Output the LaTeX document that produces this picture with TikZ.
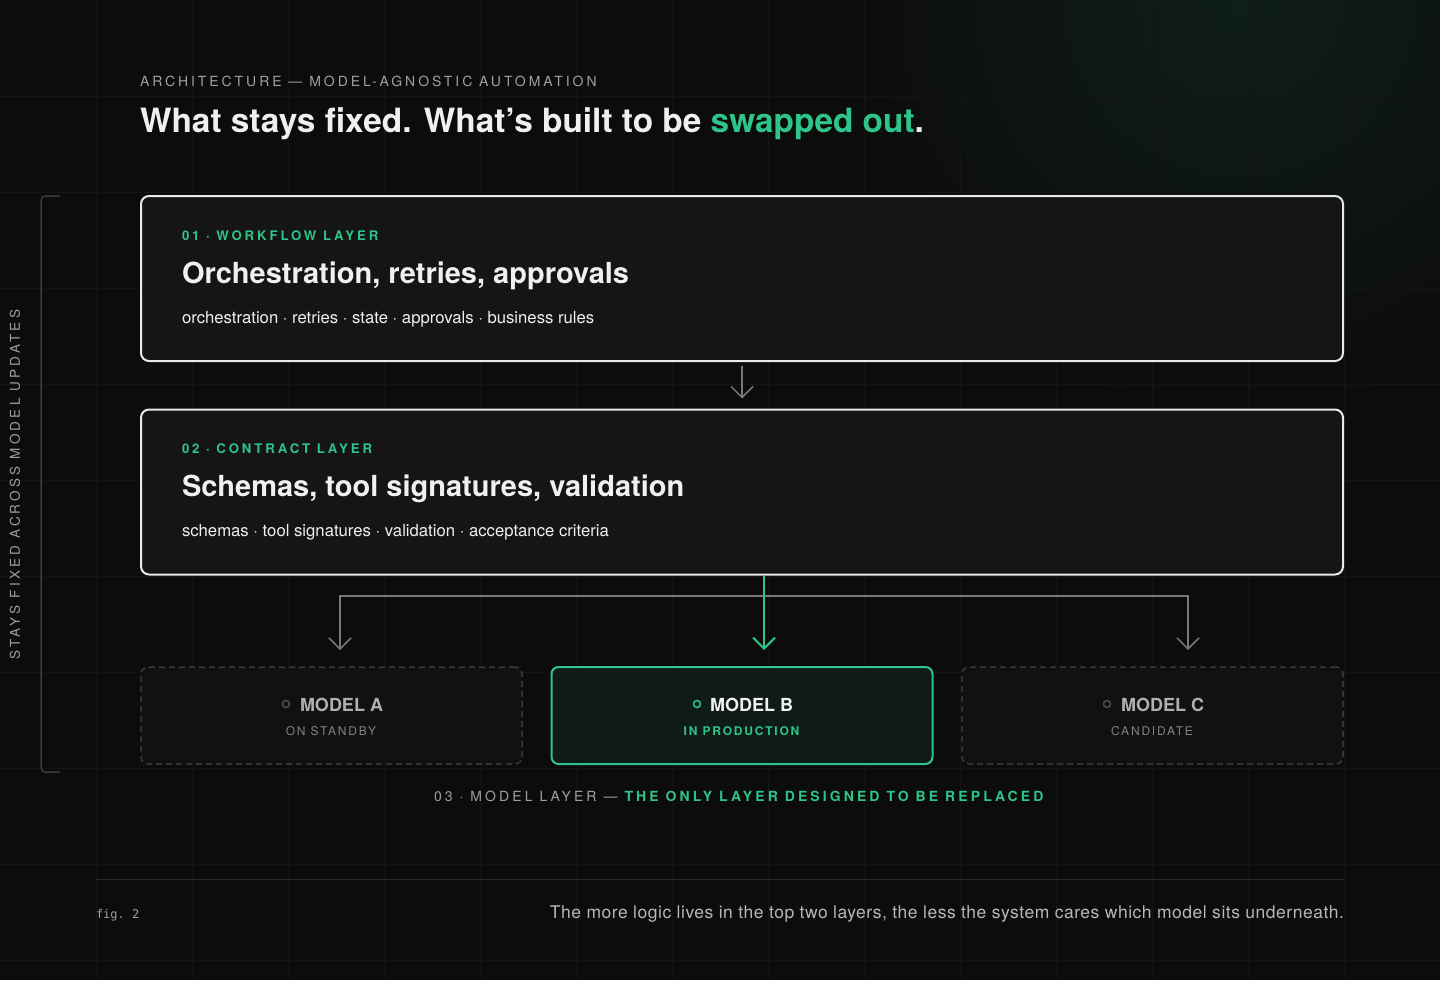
\documentclass[tikz,border=0pt]{standalone}
\usepackage{fontspec}
\setmainfont{TeX Gyre Heros}
\setmonofont{DejaVu Sans Mono}
\newfontfamily\trackfont[LetterSpace=15]{TeX Gyre Heros}
\newfontfamily\kickerfont[LetterSpace=21]{TeX Gyre Heros}
\newfontfamily\widetrack[LetterSpace=22]{TeX Gyre Heros}
\newfontfamily\sidefont[LetterSpace=24]{TeX Gyre Heros}
\newfontfamily\notefont[LetterSpace=3]{TeX Gyre Heros}
\usetikzlibrary{arrows.meta}

\definecolor{bgcol}{RGB}{12,12,12}
\definecolor{glow}{RGB}{15,30,25}
\definecolor{gridcol}{RGB}{20,20,20}
\definecolor{accent}{RGB}{46,196,138}
\definecolor{panel}{RGB}{21,21,21}
\definecolor{edge}{RGB}{232,232,232}
\definecolor{softwhite}{RGB}{240,240,240}
\definecolor{midgray}{RGB}{160,160,160}
\definecolor{namegray}{RGB}{176,176,176}
\definecolor{notegray}{RGB}{184,184,184}
\definecolor{dimgray}{RGB}{130,130,130}
\definecolor{arrowgray}{RGB}{120,120,120}
\definecolor{dashgray}{RGB}{58,58,58}
\definecolor{dotgray}{RGB}{78,78,78}
\definecolor{idlefill}{RGB}{17,17,17}
\definecolor{livefill}{RGB}{14,27,23}
\definecolor{rulegray}{RGB}{40,40,40}

\tikzset{
  layerbox/.style={draw=edge,line width=2pt,fill=panel,rounded corners=8pt,
    minimum width=1202pt,minimum height=165pt},
  modelbox/.style={rounded corners=7pt,minimum width=381pt,minimum height=97pt},
  idlebox/.style={modelbox,draw=dashgray,line width=1.5pt,dash pattern=on 6pt off 4pt,fill=idlefill},
  livebox/.style={modelbox,draw=accent,line width=2pt,fill=livefill},
  txt/.style={inner sep=0pt,outer sep=0pt},
  tagtext/.style={txt,anchor=base west,text=accent,font=\widetrack\bfseries\fontsize{13.2}{15}\selectfont},
  headtext/.style={txt,anchor=base west,text=softwhite,font=\bfseries\fontsize{29}{33}\selectfont},
  itemtext/.style={txt,anchor=base west,text=softwhite,font=\fontsize{16.7}{19}\selectfont},
  modelname/.style={txt,anchor=base west,font=\bfseries\fontsize{18}{21}\selectfont},
  modelstate/.style={txt,anchor=base,font=\trackfont\fontsize{12}{14}\selectfont},
  dot/.style={circle,draw,line width=1.5pt,inner sep=0pt,minimum size=7pt},
  grayarrow/.style={draw=arrowgray,line width=1.5pt},
  greenarrow/.style={draw=accent,line width=2pt},
  barb/.style={-{Straight Barb[length=11pt,width=22pt]}},
}

\begin{document}
\begin{tikzpicture}[x=1pt,y=-1pt]
\useasboundingbox (0,0) rectangle (1440,980);
\fill[bgcol] (0,0) rectangle (1440,980);
\shade[inner color=glow,outer color=bgcol] (1240,0) circle (420pt);
\foreach \g in {96,192,...,1344} \draw[gridcol,line width=1pt] (\g,0) -- (\g,980);
\foreach \g in {96,192,...,960} \draw[gridcol,line width=1pt] (0,\g) -- (1440,\g);

% heading
\node[txt,anchor=base west,text=midgray,font=\kickerfont\fontsize{14}{16}\selectfont] (kicker) at (140,86) {ARCHITECTURE — MODEL-AGNOSTIC AUTOMATION};
\node[txt,anchor=base west,text=softwhite,font=\bfseries\fontsize{33.4}{38}\selectfont] (title) at (140,132) {What stays fixed. What’s built to be \textcolor{accent}{swapped out}.};

% left bracket
\draw[dashgray,line width=1.5pt,rounded corners=4pt] (60,196) -- (41,196) -- (41,772) -- (60,772);
\node[txt,rotate=90,text=midgray,font=\sidefont\fontsize{13.5}{15}\selectfont] (fixed) at (15,484.5) {STAYS FIXED ACROSS MODEL UPDATES};

% layer 01
\node[layerbox] (workflow) at (742,278.5) {};
\node[tagtext] (wftag) at (182,240) {01 · WORKFLOW LAYER};
\node[headtext] (wfhead) at (182,283) {Orchestration, retries, approvals};
\node[itemtext] (wfitems) at (182,323) {orchestration · retries · state · approvals · business rules};

% layer 02
\node[layerbox] (contract) at (742,492) {};
\node[tagtext] (cttag) at (182,453) {02 · CONTRACT LAYER};
\node[headtext] (cthead) at (182,496) {Schemas, tool signatures, validation};
\node[itemtext] (ctitems) at (182,536) {schemas · tool signatures · validation · acceptance criteria};

\draw[grayarrow,barb,shorten <=4pt,shorten >=10pt] (workflow.south) -- (contract.north);

% layer 03
\node[idlebox] (modelA) at (331.5,715.5) {};
\node[livebox] (modelB) at (742,715.5) {};
\node[idlebox] (modelC) at (1152.5,715.5) {};

\coordinate (tipA) at (340,650);
\coordinate (tipB) at (764,650);
\coordinate (tipC) at (1188,650);
\coordinate (split) at (764,596);
\draw[grayarrow,{Straight Barb[length=11pt,width=22pt]}-{Straight Barb[length=11pt,width=22pt]}] (tipA) |- (split) -| (tipC);
\draw[greenarrow,barb] (contract.south -| tipB) -- (tipB);

\node[modelname,text=namegray] (nameA) at (300,711) {MODEL A};
\node[dot,draw=dotgray] (dotA) at (286,704) {};
\node[modelstate,text=dimgray] (stateA) at (331,735) {ON STANDBY};

\node[modelname,text=softwhite] (nameB) at (710,711) {MODEL B};
\node[dot,draw=accent] (dotB) at (697,704) {};
\node[modelstate,text=accent,font=\trackfont\bfseries\fontsize{12}{14}\selectfont] (stateB) at (741.5,735) {IN PRODUCTION};

\node[modelname,text=namegray] (nameC) at (1121,711) {MODEL C};
\node[dot,draw=dotgray] (dotC) at (1107,704) {};
\node[modelstate,text=dimgray] (stateC) at (1152,735) {CANDIDATE};

\node[txt,anchor=base west,text=midgray,font=\widetrack\fontsize{14}{16}\selectfont] (layernote) at (434,801) {03 · MODEL LAYER — \textcolor{accent}{\bfseries THE ONLY LAYER DESIGNED TO BE REPLACED}};

% footer
\draw[rulegray,line width=1pt] (96,879) -- (1344,879);
\node[txt,anchor=base west,text=midgray,font=\ttfamily\fontsize{12}{14}\selectfont] (fig) at (96,918) {fig. 2};
\node[txt,anchor=base east,text=notegray,font=\notefont\fontsize{17.5}{20}\selectfont] (caption) at (1344,918) {The more logic lives in the top two layers, the less the system cares which model sits underneath.};
\end{tikzpicture}
\end{document}
